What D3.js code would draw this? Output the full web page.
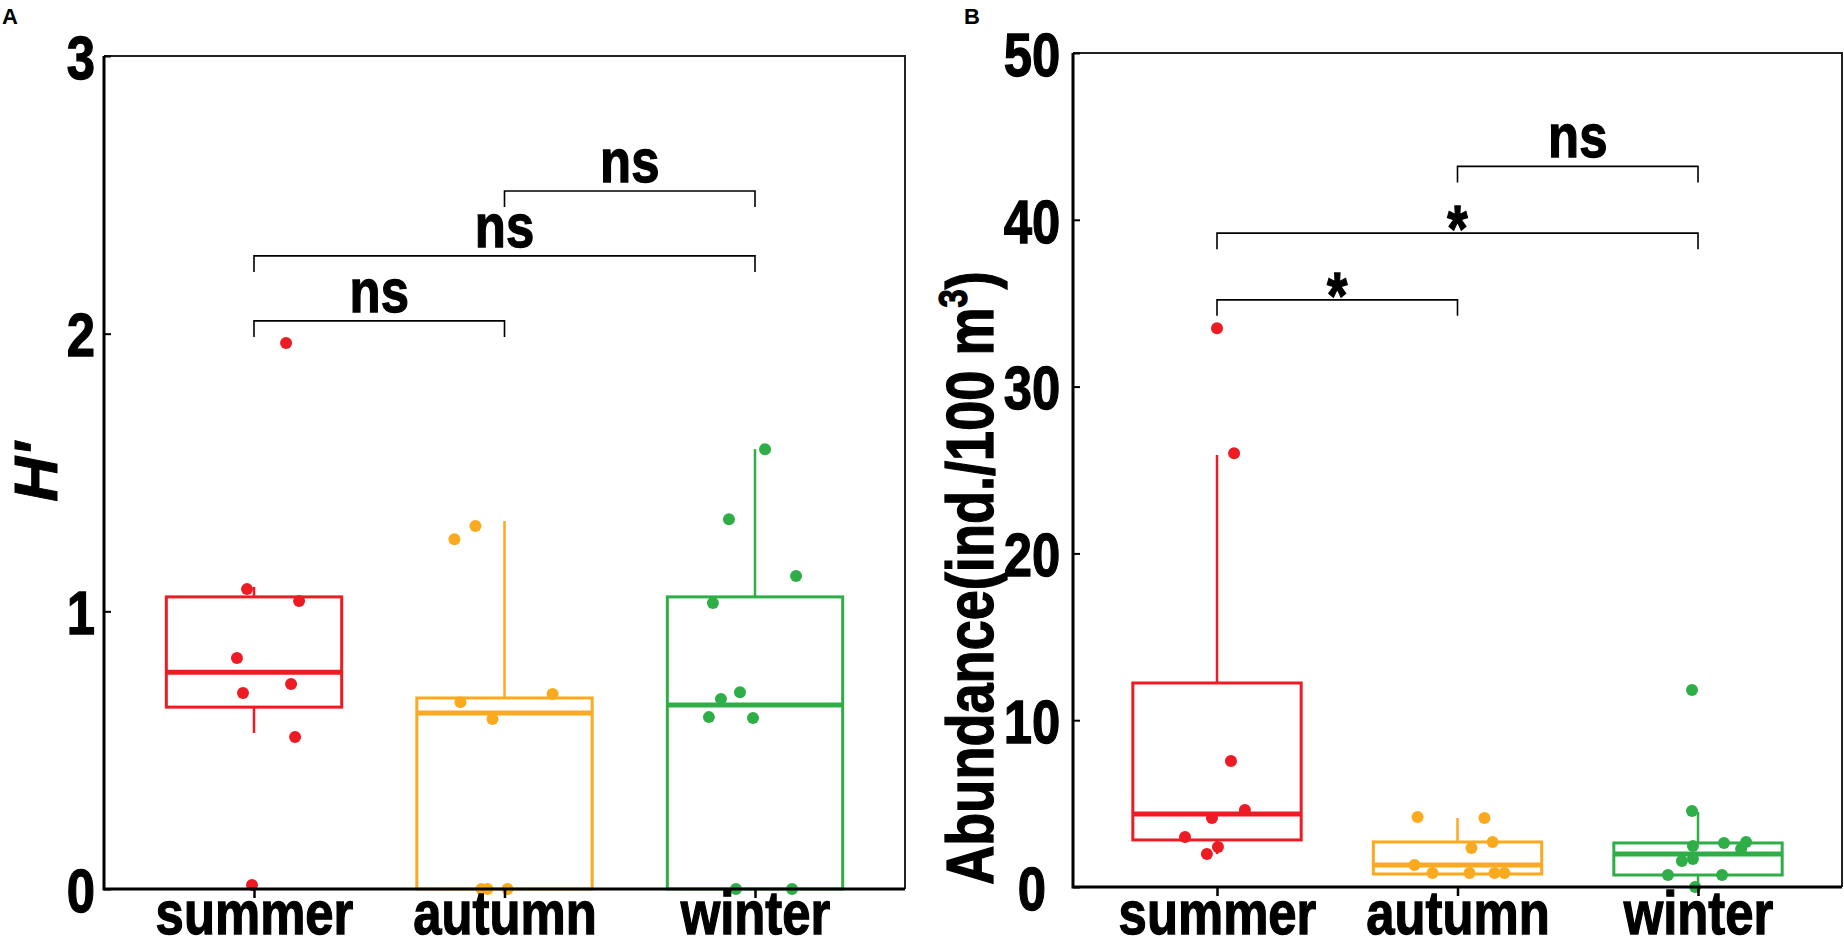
<!DOCTYPE html>
<html>
<head>
<meta charset="utf-8">
<script src="https://cdn.jsdelivr.net/npm/d3@7"></script>
<style>
  body { margin: 0; background: #fff; }
  svg { display: block; }
  .narrow { font-family: "Liberation Sans", Arial, sans-serif; font-weight: bold; stroke: #000; stroke-width: 1.3px; }
</style>
</head>
<body>
<svg id="chart" width="1844" height="947"></svg>
<script>
const seasons = ["summer", "autumn", "winter"];
const seasonColors = ["#ED1C24", "#FBAA1F", "#2FAE48"];

// Panel A: H'
const hTicks = [0, 1, 2, 3];
const hSummer = [1.966, 1.080, 1.037, 0.832, 0.738, 0.706, 0.547, 0.014];
const hAutumn = [1.260, 1.307, 0.673, 0.702, 0.612, 0, 0, 0];
const hWinter = [1.584, 1.332, 1.030, 0.709, 0.684, 0.619, 0.616, 1.127, 0, 0];
// horizontal jitter, in category widths
const hSummerJit = [0.128, -0.028, 0.18, -0.068, 0.148, -0.044, 0.164, -0.008];
const hAutumnJit = [-0.20, -0.116, -0.176, 0.192, -0.048, -0.092, -0.068, 0.012];
const hWinterJit = [0.04, -0.104, -0.168, -0.06, -0.136, -0.184, -0.008, 0.164, -0.076, 0.148];
const hLow = [0.562, 0, 0];
const hQ1 = [0.655, 0, 0];
const hMedian = [0.781, 0.634, 0.663];
const hQ3 = [1.052, 0.688, 1.052];
const hHigh = [1.088, 1.325, 1.584];
const hBrFrom = ["summer", "summer", "autumn"];
const hBrTo = ["autumn", "winter", "winter"];
const hBrY = [2.046, 2.280, 2.514];
const hBrLabel = ["ns", "ns", "ns"];

// Panel B: abundance
const aTicks = [0, 10, 20, 30, 40, 50];
const aSummer = [33.5, 26.0, 7.55, 4.62, 4.14, 3.0, 2.4, 1.98];
const aAutumn = [4.2, 4.14, 2.70, 2.34, 1.32, 0.84, 0.84, 0.84, 0.84];
const aWinter = [11.81, 4.56, 2.46, 2.64, 2.70, 2.28, 1.56, 1.68, 0.72, 0.72, 0.0];
const aSummerJit = [0, 0.071, 0.058, 0.116, -0.021, -0.133, 0.004, -0.042];
const aAutumnJit = [-0.166, 0.112, 0.146, 0.058, -0.179, -0.104, 0.05, 0.154, 0.195];
const aWinterJit = [-0.025, -0.025, -0.021, 0.108, 0.2, 0.179, -0.067, -0.021, -0.125, 0.1, -0.012];
const aLow = [1.98, 0.78, 0];
const aQ1 = [2.82, 0.78, 0.72];
const aMedian = [4.38, 1.32, 1.98];
const aQ3 = [12.23, 2.70, 2.64];
const aHigh = [25.9, 4.14, 4.50];
const aBrFrom = ["summer", "summer", "autumn"];
const aBrTo = ["autumn", "winter", "winter"];
const aBrY = [35.2, 39.2, 43.2];
const aBrLabel = ["*", "*", "ns"];

const svg = d3.select('#chart');
const SQUEEZE = 0.82; // condensed look for the bold labels

function drawPanel(p) {
    const g = svg.append('g');
    const y = d3.scaleLinear().domain([0, p.ticks[p.ticks.length - 1]]).range([p.bottom, p.top]);
    const x = d3.scalePoint().domain(seasons).range(p.centers);
    const bw = 0.7 * x.step();

    // boxes
    seasons.forEach((s, i) => {
        const cx = x(s);
        const col = seasonColors[i];
        g.append('line').attr('x1', cx).attr('x2', cx)
            .attr('y1', y(p.q3[i])).attr('y2', y(p.high[i]))
            .attr('stroke', col).attr('stroke-width', 2.5);
        g.append('line').attr('x1', cx).attr('x2', cx)
            .attr('y1', y(p.q1[i])).attr('y2', y(p.low[i]))
            .attr('stroke', col).attr('stroke-width', 2.5);
        g.append('rect')
            .attr('x', cx - bw / 2).attr('width', bw)
            .attr('y', y(p.q3[i])).attr('height', y(p.q1[i]) - y(p.q3[i]))
            .attr('fill', 'none').attr('stroke', col).attr('stroke-width', 3);
        g.append('line').attr('x1', cx - bw / 2).attr('x2', cx + bw / 2)
            .attr('y1', y(p.median[i])).attr('y2', y(p.median[i]))
            .attr('stroke', col).attr('stroke-width', 5);
    });

    // points
    p.groups.forEach((grp, i) => {
        g.selectAll(null)
            .data(grp.values.map((v, j) => ({ v: v, j: grp.jitter[j] })))
            .enter()
            .append('circle')
            .attr('cx', d => x(seasons[i]) + d.j * x.step())
            .attr('cy', d => y(d.v))
            .attr('r', 6)
            .attr('fill', seasonColors[i]);
    });

    // frame: thin top and right, thick left and bottom
    g.append('path')
        .attr('d', `M${p.left},${p.top}H${p.right}V${p.bottom}`)
        .attr('fill', 'none').attr('stroke', '#222').attr('stroke-width', 2);
    g.append('path')
        .attr('d', `M${p.left},${p.top}V${p.bottom}H${p.right}`)
        .attr('fill', 'none').attr('stroke', '#000').attr('stroke-width', 3);

    // axes
    const yAxis = g.append('g')
        .attr('transform', `translate(${p.left},0)`)
        .call(d3.axisLeft(y).tickValues(p.ticks).tickSizeInner(-7).tickSizeOuter(0).tickFormat(d3.format('d')));
    yAxis.select('.domain').remove();
    yAxis.selectAll('.tick line').attr('stroke-width', 2);
    yAxis.selectAll('.tick text')
        .attr('class', 'narrow')
        .attr('font-size', 62)
        .attr('fill', '#000')
        .attr('text-anchor', 'middle')
        .attr('x', -p.labelOffset)
        .attr('dy', '0.36em');

    const xAxis = g.append('g')
        .attr('transform', `translate(0,${p.bottom})`)
        .call(d3.axisBottom(x).tickSizeInner(9).tickSizeOuter(0));
    xAxis.select('.domain').remove();
    xAxis.selectAll('.tick line').attr('stroke-width', 2.5);
    xAxis.selectAll('.tick text')
        .attr('class', 'narrow')
        .attr('font-size', 62)
        .attr('fill', '#000')
        .attr('y', 934 - p.bottom)
        .attr('dy', 0);

    // significance brackets
    p.brackets.forEach(b => {
        const x1 = x(b.from), x2 = x(b.to), yb = y(b.y);
        g.append('path')
            .attr('d', `M${x1},${yb + 16}V${yb}H${x2}V${yb + 16}`)
            .attr('fill', 'none').attr('stroke', '#000').attr('stroke-width', 1.6);
        g.append('text')
            .attr('class', 'narrow')
            .attr('x', (x1 + x2) / 2)
            .attr('y', b.label === '*' ? yb + 18 : yb - 9)
            .attr('text-anchor', 'middle')
            .attr('font-size', b.label === '*' ? 64 : 62)
            .text(b.label);
    });
    return g;
}

function brackets(from, to, ys, labels) {
    return from.map((f, i) => ({ from: f, to: to[i], y: ys[i], label: labels[i] }));
}

drawPanel({
    left: 104, right: 905, top: 56, bottom: 889, centers: [254, 755], labelOffset: 23,
    ticks: hTicks,
    groups: [
        { values: hSummer, jitter: hSummerJit },
        { values: hAutumn, jitter: hAutumnJit },
        { values: hWinter, jitter: hWinterJit }
    ],
    low: hLow, q1: hQ1, median: hMedian, q3: hQ3, high: hHigh,
    brackets: brackets(hBrFrom, hBrTo, hBrY, hBrLabel)
});

drawPanel({
    left: 1073, right: 1842, top: 53, bottom: 887, centers: [1217, 1698], labelOffset: 41,
    ticks: aTicks,
    groups: [
        { values: aSummer, jitter: aSummerJit },
        { values: aAutumn, jitter: aAutumnJit },
        { values: aWinter, jitter: aWinterJit }
    ],
    low: aLow, q1: aQ1, median: aMedian, q3: aQ3, high: aHigh,
    brackets: brackets(aBrFrom, aBrTo, aBrY, aBrLabel)
});

// squeeze the bold labels horizontally around their anchor point
svg.selectAll('text.narrow').each(function () {
    const t = d3.select(this);
    const tx = +t.attr('x') || 0, ty = +t.attr('y') || 0;
    t.attr('x', 0).attr('y', 0)
        .attr('transform', `translate(${tx},${ty}) scale(${SQUEEZE},1)`);
});

// axis titles
svg.append('text')
    .attr('transform', 'translate(57,472) rotate(-90)')
    .attr('text-anchor', 'middle')
    .attr('font-family', '"Liberation Sans", Arial, sans-serif')
    .attr('font-weight', 'bold')
    .attr('font-style', 'italic')
    .attr('font-size', 62)
    .attr('stroke', '#000')
    .attr('stroke-width', 1)
    .text("H'");

const yLab = svg.append('text')
    .attr('class', 'narrow')
    .attr('transform', `translate(993,578) rotate(-90) scale(${SQUEEZE},1)`)
    .attr('text-anchor', 'middle')
    .attr('font-size', 66);
yLab.append('tspan').text('Abundance(ind./100 m');
yLab.append('tspan').attr('font-size', 40).attr('dy', -26).text('3');
yLab.append('tspan').attr('dy', 26).text(')');

// panel letters
svg.selectAll('text.panel')
    .data([{ t: 'A', x: 2 }, { t: 'B', x: 964 }])
    .enter()
    .append('text')
    .attr('class', 'panel')
    .attr('x', d => d.x)
    .attr('y', 24)
    .attr('font-family', '"Liberation Sans", Arial, sans-serif')
    .attr('font-weight', 'bold')
    .attr('font-size', 22)
    .text(d => d.t);
</script>
</body>
</html>
